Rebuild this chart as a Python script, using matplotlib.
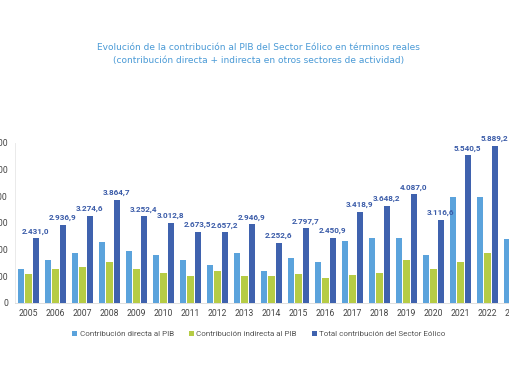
import numpy as np
import matplotlib
matplotlib.use('Agg')
import matplotlib.pyplot as plt

years = [str(y) for y in range(2005, 2024)]
directa = [1290, 1610, 1880, 2290, 1950, 1810, 1620, 1430, 1880, 1190, 1700, 1520,
           2320, 2450, 2440, 1800, 3990, 3990, 2400]
indirecta = [1100, 1280, 1350, 1530, 1260, 1130, 1020, 1190, 1020, 1020, 1080, 920,
             1060, 1140, 1610, 1290, 1520, 1860, np.nan]
total = [2431.0, 2936.9, 3274.6, 3864.7, 3252.4, 3012.8, 2673.5, 2657.2, 2946.9, 2252.6,
         2797.7, 2450.9, 3418.9, 3648.2, 4087.0, 3116.6, 5540.5, 5889.2, np.nan]
yticks = [0, 1000, 2000, 3000, 4000, 5000, 6000]

c_dir = '#5ba3dc'
c_ind = '#b6cc45'
c_tot = '#3f62ae'
fam = ['Roboto', 'DejaVu Sans']


def fmt(v):
    s = f'{v:,.1f}'
    return s.replace(',', '#').replace('.', ',').replace('#', '.')


fig = plt.figure(figsize=(5.10, 3.82), dpi=100)
ax = fig.add_axes([15 / 510, 79 / 382, 513 / 510, 160 / 382])

x = np.arange(len(years))
w = 0.235
off = 0.268
ax.bar(x - off, directa, w, color=c_dir, label='Contribución directa al PIB')
ax.bar(x, indirecta, w, color=c_ind, label='Contribución indirecta al PIB')
ax.bar(x + off, total, w, color=c_tot, label='Total contribución del Sector Eólico')

for xi, v in zip(x, total):
    if np.isnan(v):
        continue
    ax.text(xi + off, v + 130, fmt(v), ha='center', va='bottom', fontsize=5.9,
            color='#3a5ba8', fontweight='bold', family=fam, clip_on=False)

ax.set_xlim(-0.5, len(years) - 0.5)
ax.set_ylim(0, 6000)
ax.set_xticks(x)
ax.set_xticklabels(years, family=fam, fontsize=6.2)
ax.set_yticks(yticks)
ax.set_yticklabels([fmt(t)[:-2] for t in yticks], family=fam, fontsize=6.2)
ax.tick_params(axis='both', length=0, colors='#444444')
ax.tick_params(axis='y', pad=5)
ax.tick_params(axis='x', pad=4)
for s in ['top', 'right']:
    ax.spines[s].set_visible(False)
ax.spines['left'].set_color('#e6e6e6')
ax.spines['bottom'].set_color('#d9d9d9')
ax.spines['left'].set_linewidth(0.6)
ax.spines['bottom'].set_linewidth(0.6)

fig.text(0.507, 1 - 47 / 382, 'Evolución de la contribución al PIB del Sector Eólico en términos reales',
         ha='center', va='center', fontsize=6.5, color='#4a9ad6')
fig.text(0.507, 1 - 60 / 382, '(contribución directa + indirecta en otros sectores de actividad)',
         ha='center', va='center', fontsize=6.5, color='#4a9ad6')

fig.legend(loc='center', bbox_to_anchor=(0.508, 1 - 334 / 382), ncol=3, frameon=False,
           prop={'family': fam, 'size': 5.8}, handlelength=0.6, handleheight=0.6,
           handletextpad=0.3, columnspacing=1.9, labelcolor='#555555')

fig.savefig('out.png', dpi=100)
